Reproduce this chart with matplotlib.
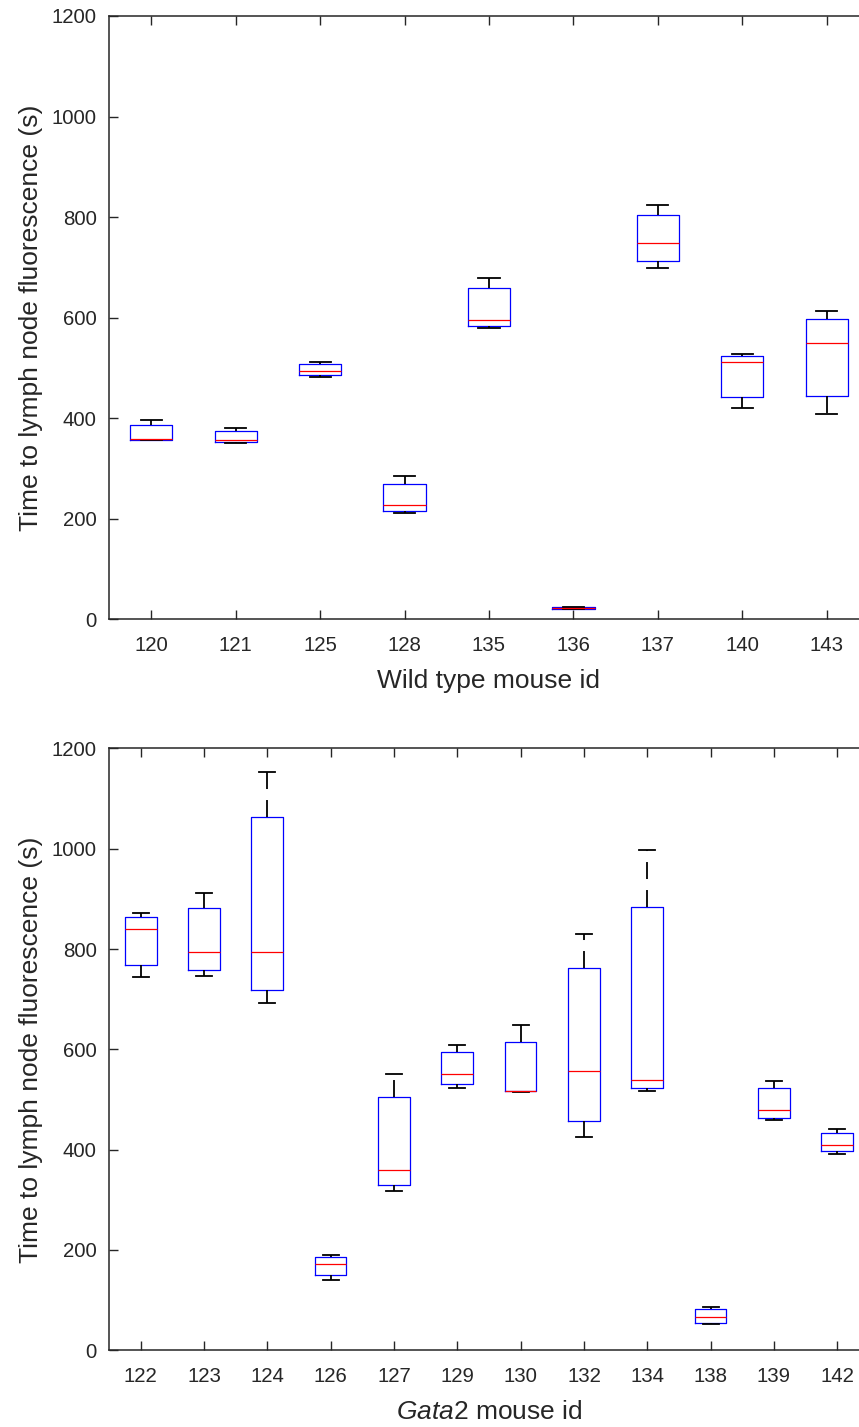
import matplotlib
matplotlib.use("Agg")
from matplotlib import pyplot as plt

# wild type mice: whisker low, quartiles, median, whisker high (seconds)
wt_ids = ["120", "121", "125", "128", "135", "136", "137", "140", "143"]
wt_low = [356, 350, 481, 212, 579, 20, 699, 421, 409]
wt_q1 = [357, 352, 485, 215, 583, 21, 712, 443, 444]
wt_med = [358, 357, 494, 228, 596, 22, 748, 511, 550]
wt_q3 = [387, 375, 507, 270, 658, 24, 805, 523, 598]
wt_high = [397, 380, 511, 285, 678, 24, 824, 527, 613]

# Gata2 mice
g2_ids = ["122", "123", "124", "126", "127", "129", "130", "132", "134", "138", "139", "142"]
g2_low = [744, 746, 693, 141, 318, 523, 515, 426, 517, 52, 459, 391]
g2_q1 = [768, 758, 718, 150, 329, 531, 516, 458, 522, 55, 464, 397]
g2_med = [839, 795, 795, 172, 359, 551, 517, 556, 538, 66, 480, 410]
g2_q3 = [864, 882, 1064, 185, 504, 594, 615, 762, 883, 82, 522, 434]
g2_high = [872, 912, 1154, 190, 551, 608, 648, 831, 998, 87, 536, 442]

plt.rcParams['font.family'] = ['Liberation Sans', 'DejaVu Sans']
plt.rcParams['mathtext.fontset'] = 'custom'
plt.rcParams['mathtext.it'] = 'Liberation Sans:italic'
plt.rcParams['mathtext.rm'] = 'Liberation Sans'

DARK = '#262626'


def make_stats(ids, low, q1, med, q3, high):
    stats = []
    for i in range(len(ids)):
        stats.append({
            'label': ids[i], 'whislo': low[i], 'q1': q1[i], 'med': med[i],
            'q3': q3[i], 'whishi': high[i], 'fliers': [],
        })
    return stats


def draw_boxes(ax, stats, xlabel):
    ax.bxp(stats, widths=0.5, capwidths=0.25, showfliers=False,
           boxprops=dict(color='blue', linewidth=0.9),
           medianprops=dict(color='red', linewidth=0.9),
           whiskerprops=dict(color='black', linewidth=1.3,
                             linestyle=(0, (9.4, 6.1))),
           capprops=dict(color='black', linewidth=1.3))
    n = len(stats)
    ax.set_xlim(0.5, n + 0.5)
    ax.set_ylim(0, 1200)
    ax.set_yticks(range(0, 1201, 200))
    ax.tick_params(direction='in', length=6.5, width=1.0, colors=DARK,
                   labelsize=14.7, top=True, right=True)
    ax.tick_params(axis='x', pad=12)
    ax.tick_params(axis='y', pad=9)
    for s in ax.spines.values():
        s.set_color(DARK)
        s.set_linewidth(1.1)
    ax.set_ylabel('Time to lymph node fluorescence (s)', fontsize=19,
                  color=DARK, labelpad=6)
    ax.set_xlabel(xlabel, fontsize=19, color=DARK, labelpad=10)


fig = plt.figure(figsize=(8.59, 14.27), dpi=100)
ax1 = fig.add_axes([0.1269, 0.566, 0.8847, 0.4228])
ax2 = fig.add_axes([0.1269, 0.0538, 0.8847, 0.4217])

draw_boxes(ax1, make_stats(wt_ids, wt_low, wt_q1, wt_med, wt_q3, wt_high),
           'Wild type mouse id')
draw_boxes(ax2, make_stats(g2_ids, g2_low, g2_q1, g2_med, g2_q3, g2_high),
           r'$\mathit{Gata2}$ mouse id')

fig.savefig('out.png', dpi=100)
